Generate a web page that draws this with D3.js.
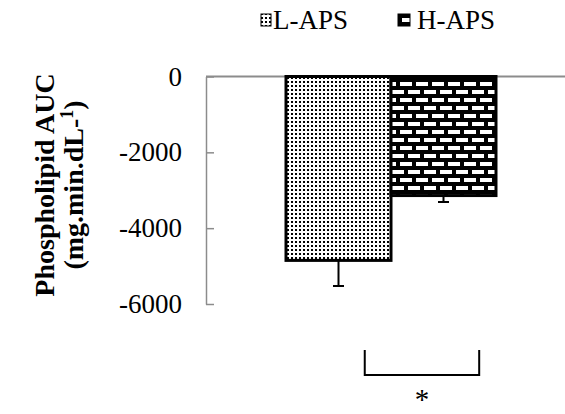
<!DOCTYPE html>
<html><head><meta charset="utf-8">
<script src="https://cdn.jsdelivr.net/npm/d3@7"></script>
<style>body{margin:0;background:#fff}svg{display:block}text{font-family:"Liberation Serif","Times New Roman",serif}</style>
</head><body><svg id="c" width="565" height="414"></svg>
<script>
const categories = ["APS"];
const series = ["L-APS", "H-APS"];
const values = [-4850, -3140];
const errors = [675, 170];
const yTicks = [0, -2000, -4000, -6000];

const svg = d3.select("#c");
const defs = svg.append("defs");
const dots = defs.append("pattern").attr("id","dots").attr("patternUnits","userSpaceOnUse").attr("width",4).attr("height",4);
dots.append("rect").attr("width",4).attr("height",4).attr("fill","#fff");
dots.append("rect").attr("x",1).attr("y",1).attr("width",2).attr("height",2).attr("fill","#000");
const brick = defs.append("pattern").attr("id","brick").attr("patternUnits","userSpaceOnUse").attr("width",16).attr("height",16);
brick.append("rect").attr("width",16).attr("height",16).attr("fill","#000");
[[2,2],[-6,10],[10,10]].forEach(([x,y])=>brick.append("rect").attr("x",x).attr("y",y).attr("width",12).attr("height",4).attr("fill","#fff"));
const fills = ["url(#dots)","url(#brick)"];

const y = d3.scaleLinear().domain([-6000,0]).range([304,76.5]);
const x0 = d3.scaleBand().domain(categories).range([206,576]).paddingOuter(0.381).paddingInner(0);
const x1 = d3.scaleBand().domain(series).range([0,x0.bandwidth()]).padding(0);

// y axis
const ax = svg.append("g").attr("transform","translate(206,0)")
  .call(d3.axisLeft(y).tickValues(yTicks).tickSizeInner(-8).tickSizeOuter(0).tickPadding(24));
ax.select(".domain").attr("stroke","#8c8c8c").attr("stroke-width",1.5);
ax.selectAll(".tick line").attr("stroke","#8c8c8c").attr("stroke-width",1.5);
ax.selectAll(".tick text").attr("font-size",27).attr("fill","#000").attr("font-family","Liberation Serif").text(d=>d===0?"0":"-"+Math.abs(d));

// zero line
svg.append("line").attr("x1",206).attr("x2",565).attr("y1",y(0)).attr("y2",y(0)).attr("stroke","#8c8c8c").attr("stroke-width",2);

// bars
const g = svg.append("g").attr("transform",`translate(${x0("APS")},0)`);
g.selectAll("rect.bar").data(series).join("rect").attr("class","bar")
  .attr("x",d=>x1(d)).attr("width",x1.bandwidth())
  .attr("y",()=>y(0)).attr("height",(d,i)=>y(values[i])-y(0))
  .attr("fill",(d,i)=>fills[i]).attr("stroke","#000").attr("stroke-width",3);

// error bars
series.forEach((s,i)=>{
  const cx = x1(s)+x1.bandwidth()/2;
  g.append("line").attr("x1",cx).attr("x2",cx).attr("y1",y(values[i])).attr("y2",y(values[i]-errors[i])).attr("stroke","#000").attr("stroke-width",2);
  g.append("line").attr("x1",cx-5.5).attr("x2",cx+5.5).attr("y1",y(values[i]-errors[i])).attr("y2",y(values[i]-errors[i])).attr("stroke","#000").attr("stroke-width",2);
});

// significance bracket
const bl = x0("APS")+x1.bandwidth()*0.75, br = x0("APS")+x1.bandwidth()*1.84;
svg.append("path").attr("d",`M${bl},350V375H${br}V350`).attr("fill","none").attr("stroke","#000").attr("stroke-width",2);
svg.append("text").attr("x",(bl+br)/2).attr("y",409).attr("text-anchor","middle").attr("font-size",29).text("*");

// y title
const t = svg.append("text").attr("transform","translate(54,185) rotate(-90)").attr("text-anchor","middle").attr("font-weight","bold").attr("font-size",28);
t.append("tspan").attr("x",0).attr("y",0).text("Phospholipid AUC");
const t2 = svg.append("text").attr("transform","translate(83,185) rotate(-90)").attr("text-anchor","middle").attr("font-weight","bold").attr("font-size",28);
t2.append("tspan").text("(mg.min.dL-");
t2.append("tspan").attr("font-size",18).attr("dy",-10).text("1");
t2.append("tspan").attr("dy",10).text(")");

// legend
const leg = [{x:261,tx:273},{x:398,tx:417}];
series.forEach((s,i)=>{
  svg.append("rect").attr("x",leg[i].x).attr("y",14).attr("width",i?12:10).attr("height",12).attr("fill",fills[i]).attr("stroke","#000").attr("stroke-width",1);
  svg.append("text").attr("x",leg[i].tx).attr("y",29).attr("font-size",27).text(s);
});
</script></body></html>
